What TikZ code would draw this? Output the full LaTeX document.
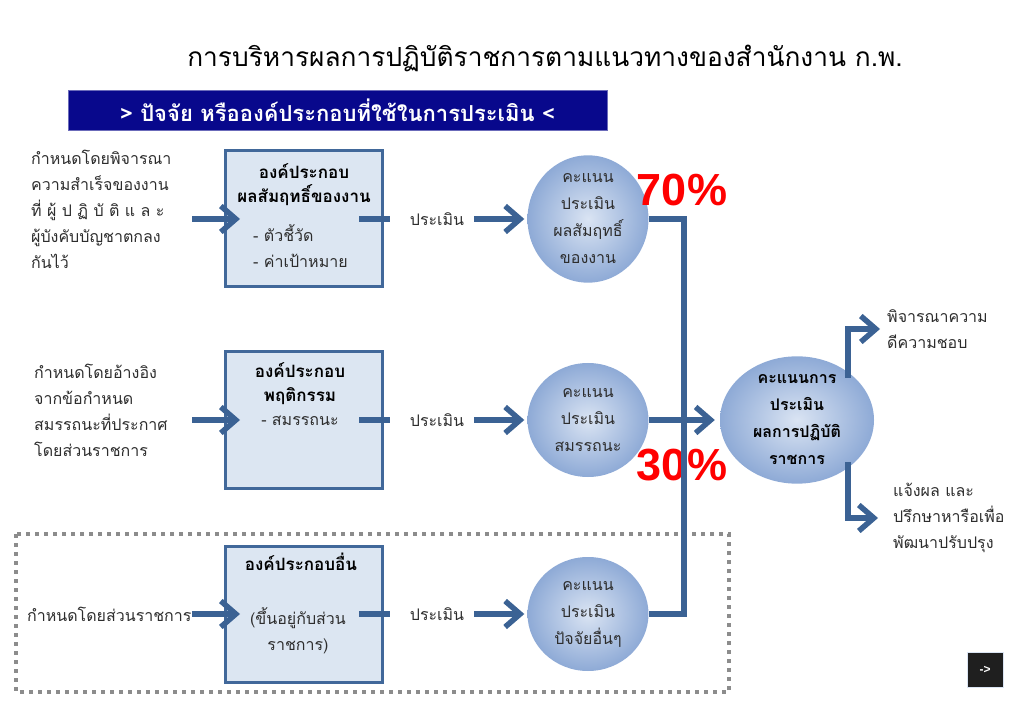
\documentclass[tikz,border=0pt]{standalone}
\usepackage{fontspec}
\newfontfamily\thai[Script=Thai]{Loma}
\newfontfamily\lat{Liberation Sans}
\usetikzlibrary{arrows.meta,shapes.geometric,calc}
\definecolor{lineblue}{RGB}{59,98,148}
\definecolor{boxfill}{RGB}{220,230,242}
\definecolor{boxline}{RGB}{65,104,154}
\definecolor{bannerblue}{RGB}{8,8,140}
\definecolor{cin}{RGB}{218,228,243}
\definecolor{cout}{RGB}{142,170,214}
\definecolor{txt}{RGB}{45,45,45}
\definecolor{dashgray}{RGB}{140,140,140}
\tikzset{
  conn/.style={draw=lineblue, line width=5.5pt, line join=miter},
  arr/.style={conn, -{Straight Barb[length=15pt,width=26pt,line width=5.5pt]}},
  box/.style={draw=boxline, fill=boxfill, line width=3pt, minimum width=157pt, minimum height=136pt, inner sep=0pt},
  circ/.style={ellipse, inner color=cin, outer color=cout, minimum width=121pt, minimum height=114pt, inner sep=0pt, align=center, text=txt, font=\fontsize{16}{27}\selectfont\thai},
  bigell/.style={ellipse, inner color=cin, outer color=cout, minimum width=154pt, minimum height=113pt, inner sep=0pt, align=center, text=black, font=\fontsize{16}{27}\selectfont\thai\bfseries},
  body/.style={inner sep=0pt, text=txt, font=\fontsize{16}{26}\selectfont\thai},
  boldt/.style={inner sep=0pt, text=black, font=\fontsize{17}{24}\selectfont\thai\bfseries},
  pct/.style={inner sep=0pt, text=red, font=\fontsize{45}{45}\selectfont\lat\bfseries},
  dashbox/.style={draw=dashgray, line width=4pt, dash pattern=on 4pt off 5pt}
}
\begin{document}
\begin{tikzpicture}[x=1pt,y=-1pt]
\useasboundingbox (0,0) rectangle (1023,708);
% title and banner
\node[inner sep=0pt, text=black, font=\fontsize{26.3}{30}\selectfont\thai] (title) at (545,58) {การบริหารผลการปฏิบัติราชการตามแนวทางของสำนักงาน ก.พ.};
\node[fill=bannerblue, draw=bannerblue!60!white, line width=1pt, minimum width=539pt, minimum height=40pt, inner sep=0pt, text=white, font=\fontsize{22}{24}\selectfont\thai\bfseries] (banner) at (337.5,110.5) {> ปัจจัย หรือองค์ประกอบที่ใช้ในการประเมิน <};
% dashed frame
\draw[dashbox] (16,534) rectangle (729,692);
% row 1
\node[body, anchor=north west, align=left] (lt1) at (31,150) {กำหนดโดยพิจารณา\\ความสำเร็จของงาน\\ที่ ผู้ ป ฏิ บั ติ แ ล ะ\\ผู้บังคับบัญชาตกลง\\กันไว้};
\node[box] (b1) at (304,219) {};
\node[boldt, align=center] (b1t) at (304,185) {องค์ประกอบ\\ผลสัมฤทธิ์ของงาน};
\node[body, align=left, anchor=west] (b1l) at (253,246) {- ตัวชี้วัด\\- ค่าเป้าหมาย};
\node[body] (p1) at (437,219) {ประเมิน};
\node[circ] (c1) at (588,219) {คะแนน\\ประเมิน\\ผลสัมฤทธิ์\\ของงาน};
% row 2
\node[body, anchor=north west, align=left] (lt2) at (34,364) {กำหนดโดยอ้างอิง\\จากข้อกำหนด\\สมรรถนะที่ประกาศ\\โดยส่วนราชการ};
\node[box] (b2) at (304,420) {};
\node[boldt, align=center] (b2t) at (300,394) {องค์ประกอบ\\พฤติกรรม\\{\mdseries\fontsize{16}{24}\selectfont\color{txt}- สมรรถนะ}};
\node[body] (p2) at (437,420) {ประเมิน};
\node[circ] (c2) at (588,420) {คะแนน\\ประเมิน\\สมรรถนะ};
% row 3
\node[body, anchor=west] (lt3) at (27,614) {กำหนดโดยส่วนราชการ};
\node[box] (b3) at (304,614) {};
\node[boldt] (b3t) at (301,562) {องค์ประกอบอื่น};
\node[body, align=center] (b3l) at (298,631) {(ขึ้นอยู่กับส่วน\\ราชการ)};
\node[body] (p3) at (437,614) {ประเมิน};
\node[circ] (c3) at (588,614) {คะแนน\\ประเมิน\\ปัจจัยอื่นๆ};
% result
\node[bigell] (E) at (797,420) {คะแนนการ\\ประเมิน\\ผลการปฏิบัติ\\ราชการ};
\node[body, anchor=west, align=left] (t1) at (887,329) {พิจารณาความ\\ดีความชอบ};
\node[body, anchor=west, align=left] (t2) at (893,518) {แจ้งผล และ\\ปรึกษาหารือเพื่อ\\พัฒนาปรับปรุง};
% percentages
\node[pct] (p70) at (682,190) {70\%};
\node[pct] (p30) at (682,465) {30\%};
% button
\node[fill=black!88, draw=cin, line width=0.8pt, minimum width=36pt, minimum height=35pt, inner sep=0pt, text=white, font=\fontsize{12}{13}\selectfont\lat\bfseries] (btn) at (985,670) {->};
% junctions
\coordinate (j1) at (684,219);
\coordinate (j3) at (684,614);
\coordinate (eu) at ($(E.center)+(51,-42)$);
\coordinate (ed) at ($(E.center)+(51,42)$);
% connectors
\draw[arr] ([xshift=-32pt]b1.west) -- ([xshift=16pt]b1.west);
\draw[arr] ([xshift=-32pt]b2.west) -- ([xshift=16pt]b2.west);
\draw[arr] ([xshift=-32pt]b3.west) -- ([xshift=16pt]b3.west);
\draw[conn] ([xshift=-25pt]b1.east) -- ([xshift=-20pt]p1.west);
\draw[conn] ([xshift=-25pt]b2.east) -- ([xshift=-20pt]p2.west);
\draw[conn] ([xshift=-25pt]b3.east) -- ([xshift=-20pt]p3.west);
\draw[arr] ([xshift=10pt]p1.east) -- ([xshift=-3pt]c1.west);
\draw[arr] ([xshift=10pt]p2.east) -- ([xshift=-3pt]c2.west);
\draw[arr] ([xshift=10pt]p3.east) -- ([xshift=-3pt]c3.west);
\draw[conn] (c1.east) -- (j1) -- (j3) -- (c3.east);
\draw[arr] (c2.east) -- ([xshift=-5pt]E.west);
\draw[arr] (eu) |- ([xshift=-7pt]t1.west);
\draw[arr] (ed) |- ([xshift=-15pt]t2.west);
\end{tikzpicture}
\end{document}
